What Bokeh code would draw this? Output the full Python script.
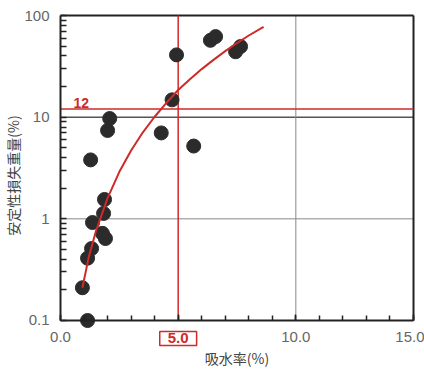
import math
from bokeh.plotting import figure
from bokeh.models import Label, FixedTicker, CustomJSTickFormatter
from bokeh.embed import file_html
from bokeh.resources import INLINE

# measured points: water absorption (%) vs. soundness loss (%)
absorption = [0.93, 1.15, 1.15, 1.32, 1.36, 1.28, 1.78, 1.91, 1.83, 1.87,
              2.00, 2.09, 4.28, 4.74, 4.93, 5.66, 6.37, 6.59, 7.44, 7.65]
loss = [0.21, 0.10, 0.41, 0.51, 0.92, 3.8, 0.72, 0.64, 1.13, 1.55,
        7.4, 9.7, 7.0, 14.8, 41.0, 5.2, 57.0, 62.0, 44.0, 49.5]

# fitted curve
curve_x = [0.93, 1.2, 1.5, 2.0, 2.5, 3.0, 3.5, 4.0, 4.5, 5.0, 5.5, 6.0, 6.5, 7.0, 7.5, 8.0, 8.63]
curve_y = [0.21, 0.42, 0.75, 1.6, 2.9, 4.7, 7.1, 10.1, 13.8, 18.5, 23.6, 29.7, 36.6, 44.6, 53.6, 63.6, 77.5]

limit_loss = 12
limit_absorption = 5.0
x_major = [0, 5, 10, 15]
y_major = [0.1, 1, 10, 100]
x_min, x_max = 0, 15
y_min, y_max = 0.1, 100

TICK_FONT = "Liberation Sans"
CJK_FONT = "Noto Sans CJK JP"
RED = "#cf2a2a"
DARK = "#222222"

# frame covers whole figure; axes are fixed inside so nothing gets clipped
p = figure(width=424, height=369, x_range=(-2.55, 15.467), y_range=(0.03296, 140.5),
           y_axis_type="log", output_backend="svg", toolbar_location=None,
           min_border=0, min_border_left=0, min_border_right=0,
           min_border_top=0, min_border_bottom=0)
p.title.visible = False
p.grid.visible = False
p.outline_line_color = None
p.background_fill_color = "white"
p.border_fill_color = "white"

xa = p.xaxis[0]
xa.fixed_location = y_min
xa.bounds = (x_min, x_max)
xa.ticker = FixedTicker(ticks=x_major, minor_ticks=list(range(x_min, x_max + 1)))
xa.formatter = CustomJSTickFormatter(code="return tick == 5 ? '' : tick.toFixed(1)")
ya = p.yaxis[0]
ya.fixed_location = x_min
ya.bounds = (y_min, y_max)
minors = []
for d in [0.1, 1, 10]:
    minors += [d * k for k in range(2, 10)]
ya.ticker = FixedTicker(ticks=y_major, minor_ticks=minors)
ya.formatter = CustomJSTickFormatter(code="return tick < 1 ? tick.toFixed(1) : tick.toFixed(0)")

for ax in (xa, ya):
    ax.axis_line_color = DARK
    ax.axis_line_width = 2
    ax.major_tick_out = 0
    ax.major_tick_in = 6
    ax.minor_tick_out = 0
    ax.minor_tick_in = 6
    ax.major_tick_line_color = DARK
    ax.minor_tick_line_color = DARK
    ax.major_tick_line_width = 1.5
    ax.minor_tick_line_width = 1.5
    ax.major_label_text_font = TICK_FONT
    ax.major_label_text_font_size = "15px"
    ax.major_label_text_color = "#666666"
xa.major_label_standoff = 12
ya.major_label_standoff = 11
xa.minor_tick_in = 5

# reference grid lines (inside the frame only)
p.segment(x0=[x_min, x_min], y0=[10, 1], x1=[x_max, x_max], y1=[10, 1],
          line_color=["#555555", "#888888"], line_width=[1.5, 1])
p.segment(x0=[10], y0=[y_min], x1=[10], y1=[y_max], line_color="#888888", line_width=1)

# frame: top and right edges
p.segment(x0=[x_min, x_max], y0=[y_max, y_min], x1=[x_max, x_max], y1=[y_max, y_max],
          line_color=DARK, line_width=2)

# red limit lines
p.segment(x0=[x_min], y0=[limit_loss], x1=[x_max], y1=[limit_loss],
          line_color=RED, line_width=1.5)
p.segment(x0=[limit_absorption], y0=[y_min], x1=[limit_absorption], y1=[y_max],
          line_color=RED, line_width=1.5)

p.scatter(absorption, loss, size=14, fill_color="#2b2b2b", line_color="#2b2b2b")
p.line(curve_x, curve_y, line_color=RED, line_width=2)

p.add_layout(Label(x=0.55, y=limit_loss, y_offset=1, text=str(limit_loss),
                   text_color=RED, text_font="Liberation Sans", text_font_style="bold",
                   text_font_size="14px", text_baseline="bottom", text_align="left"))

p.add_layout(Label(x=limit_absorption, y=y_min, y_offset=-18, text="5.0",
                   text_color=RED, text_font="Liberation Sans", text_font_style="bold",
                   text_font_size="15px", text_align="center", text_baseline="middle",
                   border_line_color=RED, border_line_width=1.5, background_fill_color="white",
                   padding=dict(left=8, right=8, top=2, bottom=2)))

p.add_layout(Label(x=(x_min + x_max) / 2, y=y_min, y_offset=-38, text="吸水率(%)",
                   text_color="#444444", text_font=CJK_FONT, text_font_size="14px",
                   text_align="center", text_baseline="middle"))

p.add_layout(Label(x=-2.0, y=2.67, text="安定性損失重量(%)",
                   text_color="#444444", text_font=CJK_FONT, text_font_size="14px",
                   text_align="center", text_baseline="middle", angle=math.pi / 2))

open("out.html", "w").write(file_html(p, INLINE))
